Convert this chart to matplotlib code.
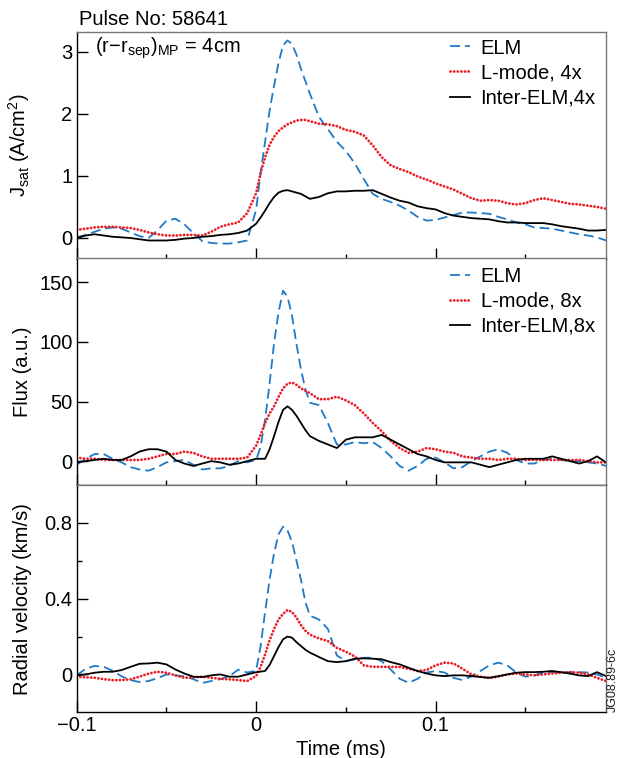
import matplotlib
matplotlib.use("Agg")
import matplotlib.pyplot as plt
from matplotlib.ticker import FixedLocator, NullFormatter

plt.rcParams['font.family'] = ['Liberation Sans', 'DejaVu Sans']
plt.rcParams['mathtext.fontset'] = 'custom'
plt.rcParams['mathtext.rm'] = 'Liberation Sans'
plt.rcParams['mathtext.it'] = 'Liberation Sans:italic'
plt.rcParams['mathtext.bf'] = 'Liberation Sans:bold'

# ---------------- data ----------------
time_ms = [-0.1, -0.095, -0.09, -0.085, -0.08, -0.075, -0.07, -0.065, -0.06, -0.055,
           -0.05, -0.045, -0.04, -0.035, -0.03, -0.025, -0.02, -0.015, -0.01, -0.005,
           0.0, 0.0025, 0.005, 0.0075, 0.01, 0.0125, 0.015, 0.0175, 0.02, 0.0225, 0.025, 0.0275, 0.03,
           0.035, 0.04, 0.045, 0.05, 0.055, 0.06, 0.065, 0.07, 0.075, 0.08, 0.085, 0.09, 0.095,
           0.1, 0.105, 0.11, 0.115, 0.12, 0.125, 0.13, 0.135, 0.14, 0.145, 0.15, 0.155, 0.16,
           0.165, 0.17, 0.175, 0.18, 0.185, 0.19, 0.195]

jsat_elm = [0.01, 0.05, 0.10, 0.15, 0.17, 0.15, 0.09, 0.03, 0.00, 0.12,
            0.28, 0.31, 0.22, 0.08, -0.05, -0.08, -0.09, -0.09, -0.07, -0.04,
            0.45, 1.05, 1.55, 2.05, 2.45, 2.82, 3.10, 3.18, 3.12, 2.95, 2.72, 2.52, 2.32,
            1.95, 1.75, 1.55, 1.40, 1.20, 0.95, 0.71, 0.63, 0.58, 0.52, 0.44, 0.34, 0.28,
            0.29, 0.33, 0.37, 0.41, 0.41, 0.40, 0.39, 0.34, 0.30, 0.25, 0.22, 0.17, 0.16,
            0.15, 0.12, 0.09, 0.06, 0.04, 0.01, -0.04]
jsat_lmode = [0.13, 0.15, 0.17, 0.18, 0.18, 0.17, 0.16, 0.13, 0.09, 0.06,
              0.04, 0.04, 0.05, 0.05, 0.04, 0.10, 0.18, 0.22, 0.25, 0.40,
              0.72, 1.05, 1.30, 1.50, 1.63, 1.72, 1.78, 1.83, 1.86, 1.89, 1.90, 1.90, 1.88,
              1.84, 1.83, 1.80, 1.74, 1.71, 1.65, 1.49, 1.30, 1.17, 1.11, 1.06, 0.99, 0.94,
              0.88, 0.83, 0.78, 0.71, 0.64, 0.60, 0.61, 0.60, 0.56, 0.54, 0.56, 0.61, 0.64,
              0.61, 0.58, 0.55, 0.54, 0.52, 0.50, 0.47]
jsat_inter = [0.00, 0.04, 0.06, 0.04, 0.02, 0.01, 0.00, -0.02, -0.04, -0.04,
              -0.04, -0.03, -0.01, 0.00, 0.02, 0.03, 0.05, 0.06, 0.08, 0.12,
              0.23, 0.33, 0.44, 0.56, 0.66, 0.73, 0.76, 0.77, 0.75, 0.73, 0.71, 0.67, 0.63,
              0.66, 0.72, 0.75, 0.75, 0.76, 0.76, 0.77, 0.71, 0.65, 0.60, 0.57, 0.51, 0.48,
              0.46, 0.40, 0.36, 0.34, 0.32, 0.31, 0.30, 0.27, 0.25, 0.25, 0.24, 0.24, 0.24,
              0.22, 0.19, 0.17, 0.15, 0.12, 0.12, 0.13]

flux_elm = [-3, 2, 6, 6, 2, -1, -5, -7, -8, -5,
            -1, 0, 1, -3, -7, -6, -6, -4, 0, -1,
            1, 12, 35, 65, 99, 125, 143, 138, 122, 98, 77, 60, 49,
            47, 32, 14, 14, 16, 15, 16, 11, 4, -4, -8, -4, 2,
            3, -1, -6, -5, 0, 4, 8, 10, 7, 1, -2, -2, 1,
            2, 1, 0, 0, -1, -2, -4]
flux_lmode = [3, 2, 2, 1, 1, 1, 1, 1, 2, 4,
              6, 6, 8, 7, 4, 2, 2, 2, 2, 3,
              13, 22, 32, 40, 46, 54, 61, 65, 66, 64, 61, 59, 57,
              52, 52, 54, 51, 47, 40, 32, 25, 17, 11, 7, 8, 11,
              10, 8, 7, 4, 3, 2, 2, 1, 2, 2, 1, 1, 1,
              1, 1, 1, 1, 0, -1, -1]
flux_inter = [-1, 0, 1, 2, 1, 1, 4, 8, 10, 10,
              8, 1, -2, -4, -2, 0, -1, -3, -2, 0,
              2, 2, 2, 10, 21, 33, 43, 46, 43, 38, 32, 26, 21,
              17, 14, 11, 18, 20, 20, 20, 22, 18, 14, 10, 6, 4,
              1, -1, -1, -1, -1, -3, -5, -3, -1, 1, 2, 2, 2,
              4, 2, 0, -2, 0, 4, -1]

vr_elm = [-0.005, 0.03, 0.045, 0.04, 0.02, -0.01, -0.03, -0.04, -0.035, -0.02,
          0.0, -0.005, -0.01, -0.025, -0.045, -0.035, -0.025, -0.01, 0.025, 0.01,
          0.02, 0.15, 0.33, 0.50, 0.64, 0.74, 0.78, 0.76, 0.70, 0.60, 0.50, 0.38, 0.31,
          0.29, 0.24, 0.10, 0.07, 0.08, 0.088, 0.088, 0.07, 0.026, -0.023, -0.044, -0.023, 0.01,
          0.018, 0.01, -0.018, -0.03, -0.01, 0.018, 0.048, 0.062, 0.048, 0.01, -0.012, -0.005, 0.01,
          0.012, 0.01, 0.012, 0.012, 0.01, 0.0, -0.018]
vr_lmode = [-0.012, -0.015, -0.018, -0.025, -0.03, -0.03, -0.026, -0.012, 0.004, 0.014,
            0.009, -0.005, -0.018, -0.015, -0.012, -0.018, -0.023, -0.026, -0.03, -0.035,
            -0.009, 0.04, 0.106, 0.18, 0.24, 0.29, 0.32, 0.34, 0.33, 0.30, 0.26, 0.23, 0.21,
            0.19, 0.176, 0.14, 0.12, 0.095, 0.048, 0.04, 0.04, 0.04, 0.039, 0.03, 0.018, 0.023,
            0.048, 0.062, 0.058, 0.03, 0.0, -0.012, -0.018, -0.012, 0.0, 0.005, 0.0, -0.005, 0.0,
            0.005, 0.009, 0.012, 0.009, 0.0, -0.018, -0.035]
vr_inter = [-0.005, 0.0, 0.009, 0.014, 0.014, 0.023, 0.04, 0.056, 0.058, 0.062,
            0.053, 0.026, 0.005, -0.012, -0.014, -0.005, 0.0, -0.012, -0.012, 0.0,
            0.012, 0.015, 0.018, 0.05, 0.097, 0.145, 0.185, 0.20, 0.194, 0.17, 0.15, 0.13, 0.115,
            0.092, 0.07, 0.065, 0.07, 0.083, 0.085, 0.083, 0.08, 0.065, 0.053, 0.035, 0.018, 0.005,
            -0.005, -0.009, -0.005, -0.005, -0.009, -0.014, -0.018, -0.009, 0.0, 0.009, 0.012, 0.012, 0.014,
            0.018, 0.012, 0.004, -0.005, -0.009, 0.012, -0.009]

x_ticks = [-0.1, 0.0, 0.1]
x_tick_labels = ['\u22120.1', '0', '0.1']
x_minor = [-0.05, 0.05, 0.15]
jsat_ticks = [0, 1, 2, 3]
jsat_tick_labels = ['0', '1', '2', '3']
flux_ticks = [0, 50, 100, 150]
flux_tick_labels = ['0', '50', '100', '150']
vr_ticks = [0, 0.4, 0.8]
vr_tick_labels = ['0', '0.4', '0.8']
vr_minor = [0.2, 0.6]

legend_top = ['ELM', 'L-mode, 4x', 'Inter-ELM,4x']
legend_mid = ['ELM', 'L-mode, 8x', 'Inter-ELM,8x']

# ---------------- style ----------------
FS = 14.5
BLUE = '#2079c7'
RED = '#ec1c24'
W, H = 632, 758
fig = plt.figure(figsize=(W / 100, H / 100), dpi=100)

left = 76.7 / W
width = (606 - 76.7) / W

def add_panel(top_px, bot_px):
    return fig.add_axes([left, 1 - bot_px / H, width, (bot_px - top_px) / H])

ax1 = add_panel(31.7, 258.5)
ax2 = add_panel(258.5, 485.0)
ax3 = add_panel(485.0, 712.3)

def draw(ax, elm, lmode, inter):
    l1, = ax.plot(time_ms, elm, color=BLUE, lw=1.3, dashes=(5.5, 2.8))
    l2, = ax.plot(time_ms, lmode, color=RED, lw=2.0, dashes=(0.05, 1.25),
                  dash_capstyle='round')
    l3, = ax.plot(time_ms, inter, color='black', lw=1.3)
    return [l1, l2, l3]

h1 = draw(ax1, jsat_elm, jsat_lmode, jsat_inter)
h2 = draw(ax2, flux_elm, flux_lmode, flux_inter)
draw(ax3, vr_elm, vr_lmode, vr_inter)

for ax in (ax1, ax2, ax3):
    ax.set_xlim(-0.1, 0.195)
    ax.xaxis.set_major_locator(FixedLocator(x_ticks))
    ax.xaxis.set_minor_locator(FixedLocator(x_minor))
    ax.tick_params(axis='both', which='major', direction='in', length=11.5 * 0.72,
                   width=1.0, labelsize=FS, pad=3, top=False, right=False)
    ax.tick_params(axis='both', which='minor', direction='in', length=5 * 0.72,
                   width=1.0, top=False, right=False)
    for s in ('top', 'right'):
        ax.spines[s].set_color('#777777')
    for s in ax.spines.values():
        s.set_linewidth(1.0)

for ax in (ax1, ax2):
    ax.set_xticklabels([])
    ax.xaxis.set_minor_formatter(NullFormatter())
ax3.set_xticks(x_ticks, x_tick_labels)

ax1.set_ylim(-0.33, 3.32)
ax1.set_yticks(jsat_ticks, jsat_tick_labels)
ax2.set_ylim(-20, 170)
ax2.set_yticks(flux_ticks, flux_tick_labels)
ax3.set_ylim(-0.2, 1.0)
ax3.set_yticks(vr_ticks, vr_tick_labels)
ax3.yaxis.set_minor_locator(FixedLocator(vr_minor))

ax1.set_ylabel(r'J$_{\mathrm{sat}}$ (A/cm$^{2}$)', fontsize=FS)
ax2.set_ylabel('Flux (a.u.)', fontsize=FS)
ax3.set_ylabel('Radial velocity (km/s)', fontsize=FS)
for ax in (ax1, ax2, ax3):
    ax.yaxis.set_label_coords(-0.085, 0.5)
ax3.set_xlabel('Time (ms)', fontsize=FS, labelpad=3)

leg_kw = dict(loc='upper left', frameon=False, fontsize=FS, handlelength=0.95,
              handletextpad=0.55, labelspacing=0.3, borderpad=0, borderaxespad=0)
ax1.legend(h1, legend_top, bbox_to_anchor=(0.706, 0.97), **leg_kw)
ax2.legend(h2, legend_mid, bbox_to_anchor=(0.706, 0.963), **leg_kw)

fig.text(79 / W, 1 - 25 / H, 'Pulse No: 58641', fontsize=FS, va='baseline', ha='left')
fig.text(95 / W, 1 - 53 / H, r'(r$-$r$_{\mathrm{sep}}$)$_{\mathrm{MP}}$ = 4cm',
         fontsize=FS, va='baseline', ha='left')
fig.text(607 / W, 1 - 712 / H, 'JG08.89-6c', rotation=90, fontsize=9,
         va='bottom', ha='left', color='#222222')

fig.savefig('out.png', dpi=100)
